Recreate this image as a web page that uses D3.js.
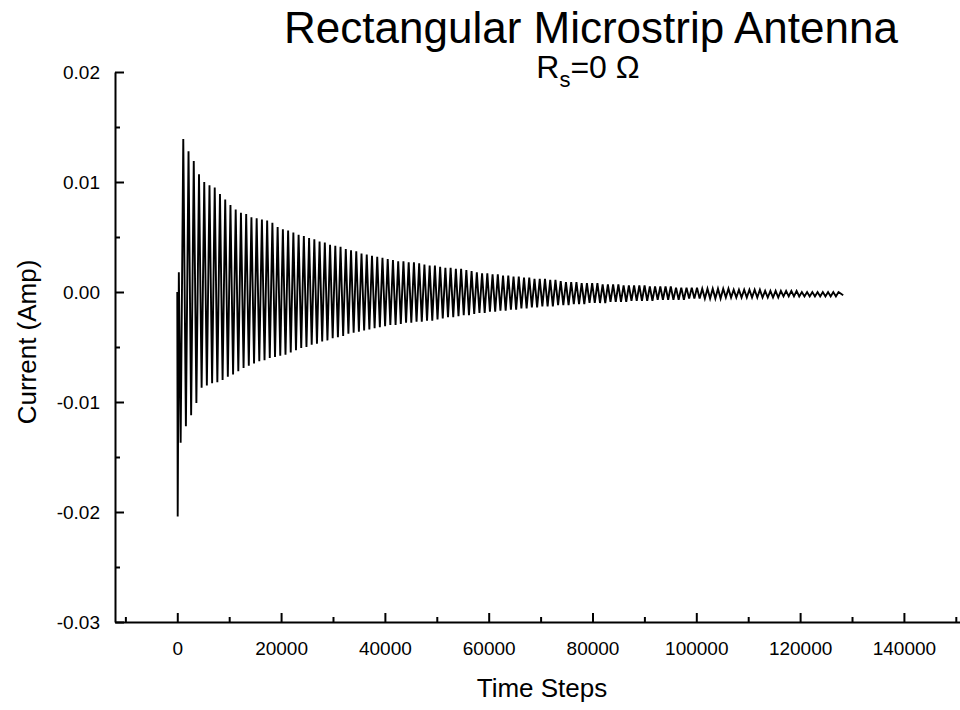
<!DOCTYPE html>
<html lang="en">

<head>
    <meta charset="utf-8">
    <title>Rectangular Microstrip Antenna</title>
    <script src="https://cdn.jsdelivr.net/npm/d3@7"></script>
    <style>
        body {
            margin: 0;
            background: #fff;
        }

        svg {
            display: block;
            font-family: Arial, "Liberation Sans", sans-serif;
        }

        .axis path,
        .axis line {
            stroke: #000;
            stroke-width: 2px;
        }

        .axis text {
            font-size: 19px;
            fill: #000;
        }
    </style>
</head>

<body>
    <div id="chart"></div>
    <script type="text/javascript">
        // start of the run: source spike and first swing
        var transientSteps = [0, 80, 300];
        var transientCurrent = [0, -0.0204, 0.0018];

        // ringing: one low and one high peak per cycle (Amp)
        var firstLowStep = 650;
        var cyclePeriod = 1010;
        var lowerPeaks = [
            -0.0137, -0.0122, -0.0112, -0.0101, -0.0087, -0.0085, -0.0083, -0.0082, -0.0080, -0.0077,
            -0.0075, -0.0072, -0.0069, -0.0067, -0.0065, -0.0063, -0.0062, -0.0060, -0.0059, -0.0058,
            -0.0057, -0.0055, -0.0053, -0.0051, -0.0050, -0.0048, -0.0047, -0.0045, -0.0044, -0.0042,
            -0.0041, -0.0040, -0.0038, -0.0037, -0.0036, -0.0035, -0.0034, -0.0033, -0.0032, -0.0031,
            -0.0030, -0.0030, -0.0029, -0.0028, -0.0028, -0.0027, -0.0027, -0.0026, -0.0026, -0.0025,
            -0.0024, -0.0023, -0.0023, -0.0022, -0.0021, -0.0021, -0.0020, -0.0019, -0.0019, -0.0018,
            -0.0018, -0.0017, -0.0017, -0.0016, -0.0016, -0.0015, -0.0015, -0.0014, -0.0014, -0.0013,
            -0.0013, -0.0013, -0.0012, -0.0012, -0.0012, -0.0011, -0.0011, -0.0011, -0.0010, -0.0010,
            -0.0010, -0.0010, -0.0009, -0.0009, -0.0009, -0.0009, -0.0008, -0.0008, -0.0008, -0.0008,
            -0.0008, -0.0007, -0.0007, -0.0007, -0.0007, -0.0007, -0.0007, -0.0006, -0.0006, -0.0006,
            -0.0006, -0.0006, -0.0006, -0.0006, -0.0005, -0.0005, -0.0005, -0.0005, -0.0005, -0.0005,
            -0.0005, -0.0005, -0.0005, -0.0005, -0.0005, -0.0004, -0.0004, -0.0004, -0.0004, -0.0004,
            -0.0004, -0.0004, -0.0004, -0.0004, -0.0004, -0.0004];
        var upperPeaks = [
            0.0139, 0.0128, 0.0119, 0.0107, 0.0100, 0.0097, 0.0095, 0.0089, 0.0084, 0.0079,
            0.0075, 0.0072, 0.0071, 0.0068, 0.0067, 0.0066, 0.0065, 0.0063, 0.0059, 0.0057,
            0.0056, 0.0054, 0.0052, 0.0051, 0.0049, 0.0048, 0.0046, 0.0045, 0.0043, 0.0042,
            0.0041, 0.0039, 0.0038, 0.0037, 0.0035, 0.0034, 0.0033, 0.0032, 0.0031, 0.0030,
            0.0029, 0.0028, 0.0028, 0.0027, 0.0027, 0.0026, 0.0025, 0.0024, 0.0024, 0.0023,
            0.0022, 0.0022, 0.0021, 0.0021, 0.0020, 0.0019, 0.0018, 0.0017, 0.0017, 0.0016,
            0.0016, 0.0015, 0.0015, 0.0014, 0.0014, 0.0013, 0.0013, 0.0012, 0.0012, 0.0012,
            0.0011, 0.0011, 0.0010, 0.0009, 0.0009, 0.0009, 0.0008, 0.0008, 0.0008, 0.0008,
            0.0007, 0.0007, 0.0007, 0.0007, 0.0006, 0.0006, 0.0006, 0.0006, 0.0006, 0.0005,
            0.0005, 0.0005, 0.0005, 0.0005, 0.0004, 0.0004, 0.0004, 0.0004, 0.0004, 0.0003,
            0.0003, 0.0003, 0.0003, 0.0003, 0.0003, 0.0002, 0.0002, 0.0002, 0.0002, 0.0002,
            0.0002, 0.0001, 0.0001, 0.0001, 0.0001, 0.0001, 0.0001, 0.0001, 0.0000, 0.0000,
            0.0000, 0.0000, 0.0000, 0.0000, 0.0000, 0.0000];
        var tailSteps = [128300];
        var tailCurrent = [-0.0003];

        // axis ticks
        var xMajorTicks = [0, 20000, 40000, 60000, 80000, 100000, 120000, 140000];
        var xMinorTicks = [-10000, 10000, 30000, 50000, 70000, 90000, 110000, 130000, 150000];
        var yMajorTicks = [0.02, 0.01, 0.00, -0.01, -0.02, -0.03];
        var yMinorTicks = [0.015, 0.005, -0.005, -0.015, -0.025];

        var svgWidth = 960;
        var svgHeight = 710;

        var svg = d3.select('#chart')
            .append('svg')
            .attr('width', svgWidth)
            .attr('height', svgHeight);

        var xScale = d3.scaleLinear()
            .domain([-12000, 151000])
            .range([115, 961]);
        var yScale = d3.scaleLinear()
            .domain([-0.03, 0.02])
            .range([622, 72]);

        // build the trace
        var points = [];
        transientSteps.forEach((t, i) => points.push({ step: t, current: transientCurrent[i] }));
        lowerPeaks.forEach((v, i) => {
            var t0 = firstLowStep + i * cyclePeriod;
            points.push({ step: t0, current: v });
            points.push({ step: t0 + cyclePeriod / 2, current: upperPeaks[i] });
        });
        tailSteps.forEach((t, i) => points.push({ step: t, current: tailCurrent[i] }));

        var line = d3.line()
            .x((d) => xScale(d.step))
            .y((d) => yScale(d.current));

        svg.append('path')
            .datum(points)
            .attr('d', line)
            .attr('fill', 'none')
            .attr('stroke', '#000')
            .attr('stroke-width', 1.9);

        // x axis
        svg.append('g')
            .attr('class', 'axis')
            .attr('transform', `translate(0, ${yScale(-0.03)})`)
            .call(d3.axisBottom(xScale).tickValues(xMajorTicks)
                .tickSizeInner(-9).tickSizeOuter(0).tickPadding(20)
                .tickFormat(d3.format('d')));
        svg.append('g')
            .attr('class', 'axis')
            .attr('transform', `translate(0, ${yScale(-0.03)})`)
            .call(d3.axisBottom(xScale).tickValues(xMinorTicks)
                .tickSizeInner(-5).tickSizeOuter(0).tickFormat(''))
            .select('.domain').remove();

        // y axis
        svg.append('g')
            .attr('class', 'axis')
            .attr('transform', `translate(${xScale(-12000)}, 0)`)
            .call(d3.axisLeft(yScale).tickValues(yMajorTicks)
                .tickSizeInner(-9).tickSizeOuter(0).tickPadding(15)
                .tickFormat((d) => d.toFixed(2)));
        svg.append('g')
            .attr('class', 'axis')
            .attr('transform', `translate(${xScale(-12000)}, 0)`)
            .call(d3.axisLeft(yScale).tickValues(yMinorTicks)
                .tickSizeInner(-5).tickSizeOuter(0).tickFormat(''))
            .select('.domain').remove();

        // titles
        svg.append('text')
            .attr('x', 591)
            .attr('y', 43)
            .attr('text-anchor', 'middle')
            .style('font-size', '44px')
            .text('Rectangular Microstrip Antenna');

        var sub = svg.append('text')
            .attr('x', 588)
            .attr('y', 78)
            .attr('text-anchor', 'middle')
            .style('font-size', '32px');
        sub.append('tspan').text('R');
        sub.append('tspan').attr('dy', 9).style('font-size', '22px').text('s');
        sub.append('tspan').attr('dy', -9).text('=0 \u03A9');

        svg.append('text')
            .attr('x', 542)
            .attr('y', 697)
            .attr('text-anchor', 'middle')
            .style('font-size', '26px')
            .text('Time Steps');

        svg.append('text')
            .attr('transform', 'translate(36, 342) rotate(-90)')
            .attr('text-anchor', 'middle')
            .style('font-size', '26px')
            .text('Current (Amp)');
    </script>
</body>

</html>
